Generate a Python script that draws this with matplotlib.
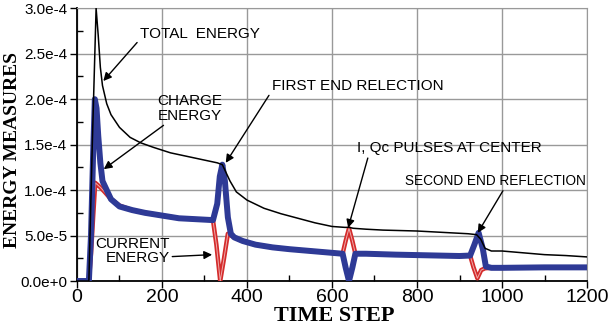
import matplotlib.pyplot as plt
from matplotlib.ticker import MultipleLocator, FuncFormatter

# values (energy in units of 1e-5)
total_t = [0, 28, 36, 45, 50, 55, 60, 70, 80, 100, 125, 150, 180, 220, 260, 300, 330, 342,
           350, 360, 375, 400, 440, 480, 520, 560, 600, 630, 640, 650, 680, 720, 760, 800,
           840, 880, 920, 940, 950, 960, 975, 1000, 1050, 1100, 1150, 1200]
total_e = [0, 0, 15, 30, 27, 23.5, 21.5, 19.5, 18.3, 16.9, 15.8, 15.2, 14.7, 14.1, 13.7, 13.3,
           13.0, 12.8, 12.0, 11.0, 9.8, 8.9, 8.0, 7.4, 6.9, 6.4, 6.0, 5.9, 5.9, 5.8, 5.7, 5.6,
           5.55, 5.5, 5.4, 5.3, 5.2, 5.1, 4.6, 3.6, 3.3, 3.3, 3.1, 2.9, 2.8, 2.65]

charge_t = [0, 28, 33, 38, 42, 46, 50, 55, 60, 70, 80, 100, 130, 160, 200, 240, 280, 320,
            330, 336, 342, 348, 355, 362, 370, 390, 420, 460, 500, 550, 600, 625, 632, 640,
            648, 655, 680, 750, 850, 900, 925, 935, 945, 955, 962, 975, 1000, 1100, 1200]
charge_e = [0, 0, 5, 14, 20, 19, 16, 13, 11, 10, 9.0, 8.2, 7.8, 7.5, 7.2, 6.9, 6.8, 6.7,
            8.5, 11.5, 12.8, 11.0, 7.0, 5.2, 4.8, 4.4, 4.0, 3.7, 3.5, 3.3, 3.1, 3.0, 1.5, 0,
            1.5, 3.0, 3.0, 2.9, 2.8, 2.75, 2.8, 4.0, 5.3, 3.5, 1.6, 1.45, 1.45, 1.5, 1.5]

current_t = [0, 28, 33, 38, 43, 48, 55, 65, 80, 100, 130, 160, 200, 240, 280, 320, 328,
             337, 346, 355, 370, 390, 420, 460, 500, 550, 600, 625, 632, 640, 648, 655,
             680, 750, 850, 900, 925, 933, 942, 951, 960, 975, 1000, 1100, 1200]
current_e = [0, 0, 3, 7, 10.8, 10.6, 10.3, 9.8, 9.0, 8.3, 7.8, 7.5, 7.2, 6.9, 6.8, 6.7, 4.0,
             0, 2.5, 5.2, 4.8, 4.4, 4.0, 3.7, 3.5, 3.3, 3.1, 3.0, 4.4, 5.8, 4.4, 3.0,
             3.0, 2.9, 2.8, 2.75, 2.8, 1.5, 0.3, 1.2, 1.4, 1.45, 1.45, 1.5, 1.5]

blue = '#2e3a96'
red = '#d42b2b'

fig = plt.figure(figsize=(6.09, 3.24), dpi=100)
ax = fig.add_axes([0.1264, 0.1327, 0.8375, 0.8417])

sc = 1e-5
ax.plot(current_t, [v * sc for v in current_e], color=red, lw=3.2, solid_joinstyle='round', zorder=3)
ax.plot(current_t, [v * sc for v in current_e], color='white', lw=0.7, alpha=0.6, zorder=3)
ax.plot(charge_t, [v * sc for v in charge_e], color=blue, lw=4.3, solid_joinstyle='round', zorder=4)
ax.plot(total_t, [v * sc for v in total_e], color='black', lw=1.1, zorder=5)

ax.set_xlim(0, 1200)
ax.set_ylim(0, 3e-4)
ax.xaxis.set_major_locator(MultipleLocator(200))
ax.xaxis.set_minor_locator(MultipleLocator(100))
ax.yaxis.set_major_locator(MultipleLocator(5e-5))
ax.yaxis.set_minor_locator(MultipleLocator(2.5e-5))

def sci(v, pos):
    if v == 0:
        return '0.0e+0'
    s = '%.1e' % v
    m, e = s.split('e')
    return '%se%d' % (m, int(e))

ax.yaxis.set_major_formatter(FuncFormatter(sci))
ax.grid(True, which='major', color='#999999', lw=1.0)
ax.set_axisbelow(True)
for s in ['top', 'right']:
    ax.spines[s].set_color('#999999')
for s in ['left', 'bottom']:
    ax.spines[s].set_linewidth(1.3)
ax.tick_params(which='major', direction='out', length=5, width=1)
ax.tick_params(which='minor', direction='in', length=4, width=1)
ax.tick_params(axis='x', labelsize=14, pad=1)
ax.tick_params(axis='y', labelsize=11, pad=2)
for lb in ax.get_xticklabels() + ax.get_yticklabels():
    lb.set_family('Liberation Sans')

lab = dict(family='Liberation Serif', fontweight='bold')
ax.set_xlabel('TIME STEP', fontsize=16, **lab)
ax.xaxis.set_label_coords(0.505, -0.09)
ax.set_ylabel('ENERGY MEASURES', fontsize=14, **lab)
ax.yaxis.set_label_coords(-0.11, 0.48)

txt = dict(fontsize=11, family='Liberation Sans', zorder=6)
arr = dict(arrowstyle='-|>', color='black', lw=1, mutation_scale=12, shrinkA=0, shrinkB=0)
ax.annotate('TOTAL  ENERGY', xy=(62, 2.2e-4), xytext=(148, 2.72e-4), ha='left', va='center',
            arrowprops=dict(arr, relpos=(0.0, 0.1)), **txt)
ax.annotate('CHARGE\nENERGY', xy=(63, 1.23e-4), xytext=(266, 1.9e-4), ha='center', va='center',
            multialignment='left', linespacing=1.05,
            arrowprops=dict(arr, relpos=(0.15, 0.0)), **txt)
ax.annotate('FIRST END RELECTION', xy=(350, 1.3e-4), xytext=(458, 2.15e-4), ha='left', va='center',
            arrowprops=dict(arr, relpos=(0.0, 0.1)), **txt)
ax.annotate('I, Qc PULSES AT CENTER', xy=(638, 5.85e-5), xytext=(660, 1.46e-4), ha='left', va='center',
            arrowprops=dict(arr, relpos=(0.06, 0.0)), **txt)
ax.annotate('SECOND END REFLECTION', xy=(943, 5.3e-5), xytext=(772, 1.1e-4), ha='left', va='center',
            arrowprops=dict(arr, relpos=(0.55, 0.0)), **dict(txt, fontsize=9.8))
ax.annotate('CURRENT\nENERGY', xy=(318, 2.9e-5), xytext=(130, 3.3e-5), ha='center', va='center',
            multialignment='right', linespacing=1.05,
            arrowprops=dict(arr, relpos=(1.0, 0.3)), **txt)

fig.savefig('out.png', dpi=100)
